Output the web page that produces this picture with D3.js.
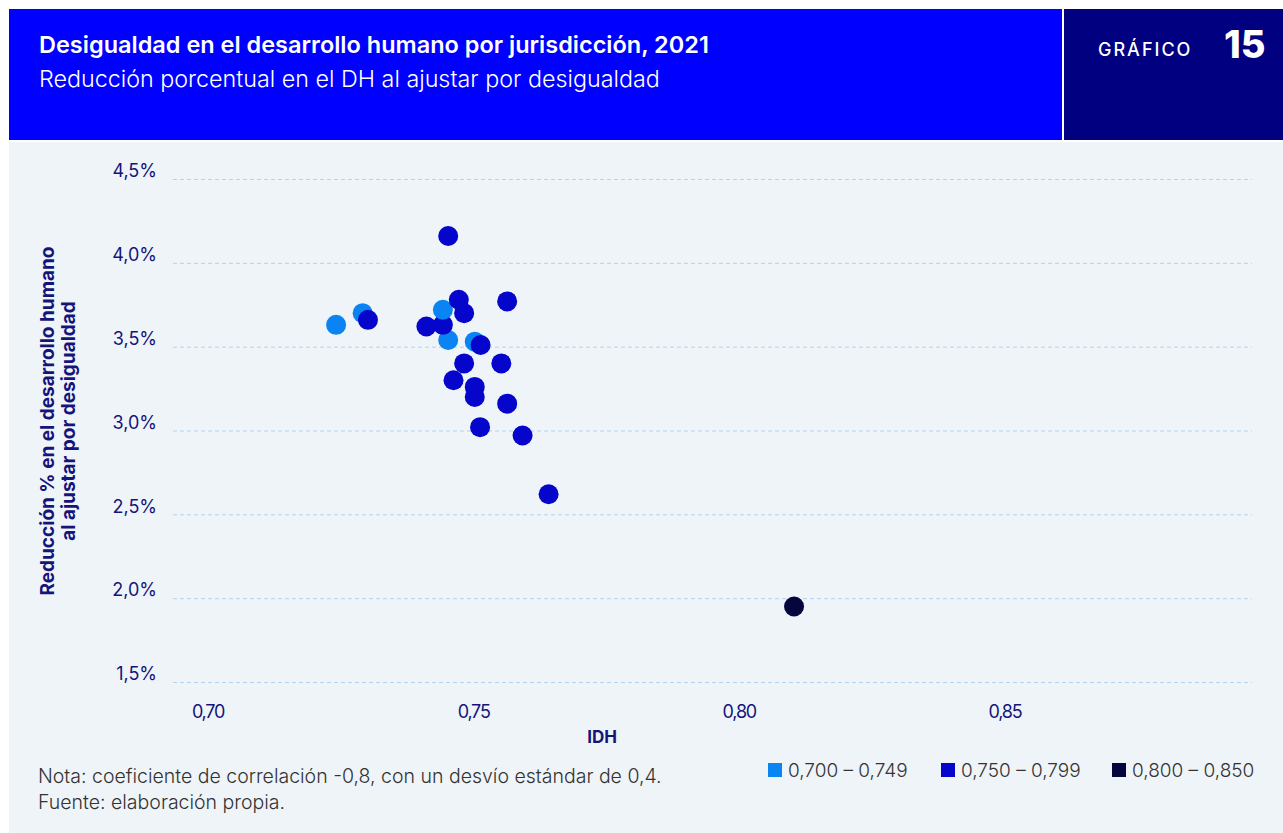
<!DOCTYPE html>
<html>
<head>
<meta charset="utf-8">
<script src="https://cdn.jsdelivr.net/npm/d3@7"></script>
<style>
  body { margin:0; background:#fff; font-family:Inter, "Noto Sans", sans-serif; }
  svg text { font-family:Inter, "Noto Sans", sans-serif; }
</style>
</head>
<body>
<script>
// datos
var idh        = [0.7242,0.7292,0.7302,0.7453,0.7412,0.7443,0.7443,0.7473,0.7483,0.7453,0.7564,0.7503,0.7514,0.7483,0.7553,0.7463,0.7503,0.7503,0.7564,0.7513,0.7593,0.7642,0.8104];
var reduccion  = [3.63,3.70,3.66,3.54,3.62,3.63,3.72,3.78,3.70,4.16,3.77,3.53,3.51,3.40,3.40,3.30,3.26,3.20,3.16,3.02,2.97,2.62,1.95];
var grupo      = [0,0,1,0,1,1,0,1,1,1,1,0,1,1,1,1,1,1,1,1,1,1,2];
var grupos     = ["0,700 – 0,749","0,750 – 0,799","0,800 – 0,850"];
var colores    = ["#0a84f2","#0505cc","#06063f"];
var yTicks     = [1.5,2.0,2.5,3.0,3.5,4.0,4.5];
var xTicks     = [0.70,0.75,0.80,0.85];

var width = 1283, height = 833;
var navy = "#14147a";

var svg = d3.select("body").append("svg")
  .attr("width", width)
  .attr("height", height);

// fondo panel
svg.append("rect").attr("x",9).attr("y",142).attr("width",width-9).attr("height",height-142).attr("fill","#eff4f9");

// cabecera
svg.append("rect").attr("x",9).attr("y",9).attr("width",1053).attr("height",131).attr("fill","#0000ff");
svg.append("rect").attr("x",1064).attr("y",9).attr("width",width-1064).attr("height",131).attr("fill","#000080");

svg.append("text").attr("x",39).attr("y",53)
  .style("font-size","23.5px").style("font-weight",600).attr("fill","#fff")
  .text("Desigualdad en el desarrollo humano por jurisdicción, 2021");
svg.append("text").attr("x",39).attr("y",87)
  .style("font-size","23.3px").style("font-weight",300).attr("fill","#fff")
  .text("Reducción porcentual en el DH al ajustar por desigualdad");
svg.append("text").attr("x",1098).attr("y",56)
  .style("font-size","18px").style("font-weight",500).style("letter-spacing","2px").attr("fill","#fff")
  .text("GRÁFICO");
svg.append("text").attr("x",1224).attr("y",58)
  .style("font-size","38px").style("font-weight",800).attr("fill","#fff")
  .text("15");

// escalas
var x = d3.scaleLinear().domain([0.6935, 0.8966]).range([173, 1252]);
var y = d3.scaleLinear().domain([1.5, 4.5]).range([682, 179]);
var fmt = function(d){ return d3.format(".2f")(d).replace(".", ","); };
var fmtY = function(d){ return d3.format(".1f")(d).replace(".", ",") + "%"; };

// grilla
svg.selectAll(".grid")
  .data(yTicks)
.enter().append("line")
  .attr("class","grid")
  .attr("x1",173).attr("x2",1252)
  .attr("y1",function(d){ return y(d)+0.5; })
  .attr("y2",function(d){ return y(d)+0.5; })
  .attr("stroke","#b5d1f2")
  .attr("stroke-width",1)
  .attr("stroke-dasharray","4,3");

// eje y (etiquetas un poco por encima de la grilla)
var yAxis = svg.append("g")
  .attr("transform","translate(157,-8)")
  .call(d3.axisLeft(y).tickValues(yTicks).tickFormat(fmtY).tickSize(0).tickPadding(0));
yAxis.select(".domain").remove();
yAxis.selectAll("text").style("font-size","18px").attr("fill",navy).attr("dy","0.32em");

// eje x
var xAxis = svg.append("g")
  .attr("transform","translate(0,705)")
  .call(d3.axisBottom(x).tickValues(xTicks).tickFormat(fmt).tickSize(0).tickPadding(0));
xAxis.select(".domain").remove();
xAxis.selectAll("text").style("font-size","18px").style("letter-spacing","-1.2px").attr("fill",navy);

svg.append("text").attr("x",602).attr("y",743).attr("text-anchor","middle")
  .style("font-size","17px").style("font-weight",700).attr("fill",navy).text("IDH");

var yt = svg.append("text")
  .attr("transform","translate(54,421)rotate(-90)")
  .attr("text-anchor","middle")
  .style("font-size","19px").style("font-weight",700).attr("fill",navy);
yt.append("tspan").attr("x",0).attr("y",0).text("Reducción % en el desarrollo humano");
yt.append("tspan").attr("x",0).attr("y",21).text("al ajustar por desigualdad");

// puntos
svg.selectAll(".punto")
  .data(idh)
.enter().append("circle")
  .attr("class","punto")
  .attr("cx",function(d){ return x(d); })
  .attr("cy",function(d,i){ return y(reduccion[i]); })
  .attr("r",10)
  .attr("fill",function(d,i){ return colores[grupo[i]]; });

// nota
svg.append("text").attr("x",38).attr("y",783)
  .style("font-size","19.5px").style("font-weight",300).attr("fill","#333")
  .text("Nota: coeficiente de correlación -0,8, con un desvío estándar de 0,4.");
svg.append("text").attr("x",38).attr("y",809)
  .style("font-size","19.5px").style("font-weight",300).attr("fill","#333")
  .text("Fuente: elaboración propia.");

// leyenda
var legX = [768, 941, 1112];
var leg = svg.selectAll(".leg")
  .data(grupos)
.enter().append("g")
  .attr("class","leg")
  .attr("transform",function(d,i){ return "translate("+legX[i]+",763)"; });
leg.append("rect").attr("width",14).attr("height",14)
  .attr("fill",function(d,i){ return colores[i]; });
leg.append("text").attr("x",20).attr("y",14)
  .style("font-size","19px").style("font-weight",300).attr("fill","#333")
  .text(String);
</script>
</body>
</html>
